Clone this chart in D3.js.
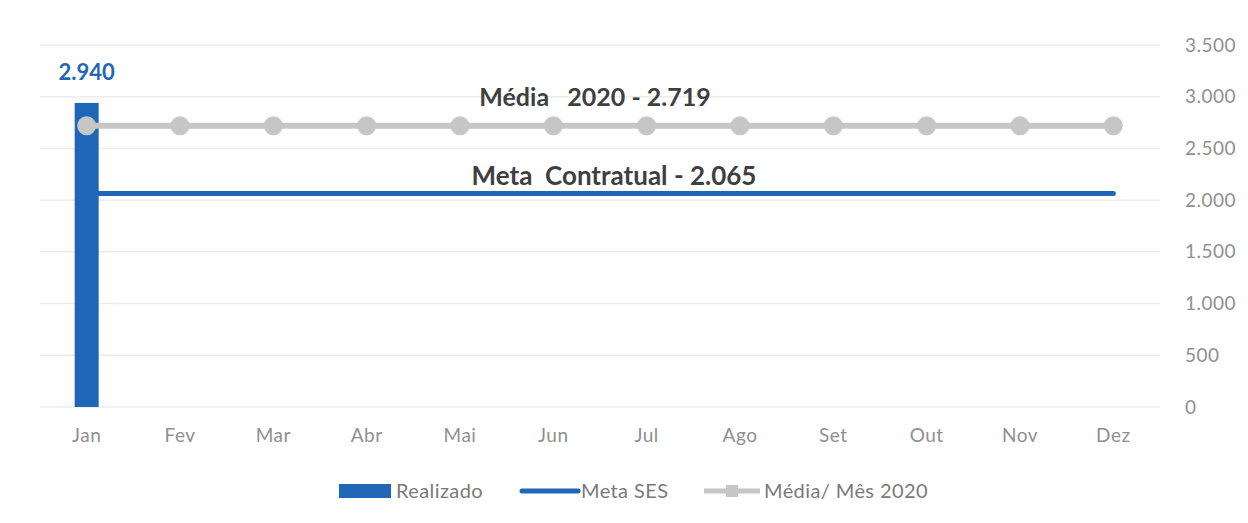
<!DOCTYPE html>
<html>
<head>
<meta charset="utf-8">
<script src="https://cdn.jsdelivr.net/npm/d3@7"></script>
<style>
  body { margin: 0; background: #fff; }
  svg text { font-family: Lato, "Open Sans", sans-serif; white-space: pre; }
</style>
</head>
<body>
<svg width="1248" height="523"></svg>
<script>
var months = ["Jan", "Fev", "Mar", "Abr", "Mai", "Jun", "Jul", "Ago", "Set", "Out", "Nov", "Dez"];
var realizado = [2940, null, null, null, null, null, null, null, null, null, null, null];
var metaSES = [2065, 2065, 2065, 2065, 2065, 2065, 2065, 2065, 2065, 2065, 2065, 2065];
var mediaMes = [2719, 2719, 2719, 2719, 2719, 2719, 2719, 2719, 2719, 2719, 2719, 2719];
var yTicks = [0, 500, 1000, 1500, 2000, 2500, 3000, 3500];

var svg = d3.select("svg");
var blue = "#1f67b6", grey = "#c6c6c6";

var x = d3.scaleBand()
    .domain(months)
    .range([40, 1160]);

var y = d3.scaleLinear()
    .domain([0, 3500])
    .range([407, 45]);

var fmt = function(v) { return d3.format(",")(v).replace(/,/g, "."); };

// gridlines
svg.append("g")
  .selectAll("line")
  .data(yTicks)
  .enter().append("line")
    .attr("x1", 40).attr("x2", 1160)
    .attr("y1", function(d) { return y(d); })
    .attr("y2", function(d) { return y(d); })
    .attr("stroke", "#ececec")
    .attr("stroke-width", 1.5);

// y axis on the right
var yAxis = svg.append("g")
    .attr("transform", "translate(1170,0)")
    .call(d3.axisRight(y).tickValues(yTicks).tickSize(0).tickFormat(fmt));
yAxis.select(".domain").remove();
yAxis.selectAll("text")
    .attr("x", 15)
    .attr("fill", "#909090")
    .attr("font-size", "19px")
    .attr("letter-spacing", "0.5px");

// x axis
var xAxis = svg.append("g")
    .attr("transform", "translate(0,407)")
    .call(d3.axisBottom(x).tickSize(0));
xAxis.select(".domain").remove();
xAxis.selectAll("text")
    .attr("y", 22)
    .attr("fill", "#909090")
    .attr("font-size", "19px")
    .attr("letter-spacing", "0.5px");

// bars
var barW = 24;
svg.append("g")
  .selectAll("rect")
  .data(months.map(function(m, i) { return {m: m, v: realizado[i]}; }).filter(function(d) { return d.v != null; }))
  .enter().append("rect")
    .attr("x", function(d) { return x(d.m) + x.bandwidth() / 2 - barW / 2; })
    .attr("y", function(d) { return y(d.v); })
    .attr("width", barW)
    .attr("height", function(d) { return y(0) - y(d.v); })
    .attr("fill", blue);

svg.append("text")
    .attr("x", x("Jan") + x.bandwidth() / 2)
    .attr("y", y(realizado[0]) - 23)
    .attr("text-anchor", "middle")
    .attr("fill", blue)
    .attr("font-weight", "bold")
    .attr("font-size", "22px")
    .text(fmt(realizado[0]));

var line = d3.line()
    .x(function(d, i) { return x(months[i]) + x.bandwidth() / 2; })
    .y(function(d) { return y(d); });

// meta line
svg.append("path")
    .datum(metaSES)
    .attr("d", line)
    .attr("fill", "none")
    .attr("stroke", blue)
    .attr("stroke-width", 5)
    .attr("stroke-linecap", "round");

// media line
svg.append("path")
    .datum(mediaMes)
    .attr("d", line)
    .attr("fill", "none")
    .attr("stroke", grey)
    .attr("stroke-width", 6);

svg.append("g")
  .selectAll("circle")
  .data(mediaMes)
  .enter().append("circle")
    .attr("cx", function(d, i) { return x(months[i]) + x.bandwidth() / 2; })
    .attr("cy", function(d) { return y(d); })
    .attr("r", 9.5)
    .attr("fill", grey);

svg.append("text")
    .attr("x", 595)
    .attr("y", y(mediaMes[0]) - 20)
    .attr("text-anchor", "middle")
    .attr("fill", "#3f3f3f")
    .attr("font-weight", "bold")
    .attr("font-size", "25px")
    .text("Média   2020 - " + fmt(mediaMes[0]));

svg.append("text")
    .attr("x", 614)
    .attr("y", y(metaSES[0]) - 8)
    .attr("text-anchor", "middle")
    .attr("fill", "#3f3f3f")
    .attr("font-weight", "bold")
    .attr("font-size", "26px")
    .text("Meta  Contratual - " + fmt(metaSES[0]));

// legend
var leg = svg.append("g").attr("transform", "translate(0,491)");
leg.append("rect").attr("x", 339).attr("y", -7).attr("width", 52).attr("height", 14).attr("fill", blue);
leg.append("text").attr("x", 396).attr("y", 7).attr("fill", "#7a7a7a").attr("font-size", "20px").attr("letter-spacing", "0.4px").text("Realizado");
leg.append("line").attr("x1", 522).attr("x2", 578).attr("y1", 0).attr("y2", 0)
    .attr("stroke", blue).attr("stroke-width", 5).attr("stroke-linecap", "round");
leg.append("text").attr("x", 581).attr("y", 7).attr("fill", "#7a7a7a").attr("font-size", "20px").attr("letter-spacing", "0.4px").text("Meta SES");
leg.append("line").attr("x1", 704).attr("x2", 760).attr("y1", 0).attr("y2", 0)
    .attr("stroke", grey).attr("stroke-width", 5);
leg.append("rect").attr("x", 726).attr("y", -6).attr("width", 12).attr("height", 12).attr("fill", grey);
leg.append("text").attr("x", 764).attr("y", 7).attr("fill", "#7a7a7a").attr("font-size", "20px").attr("letter-spacing", "0.4px").text("Média/ Mês 2020");
</script>
</body>
</html>
